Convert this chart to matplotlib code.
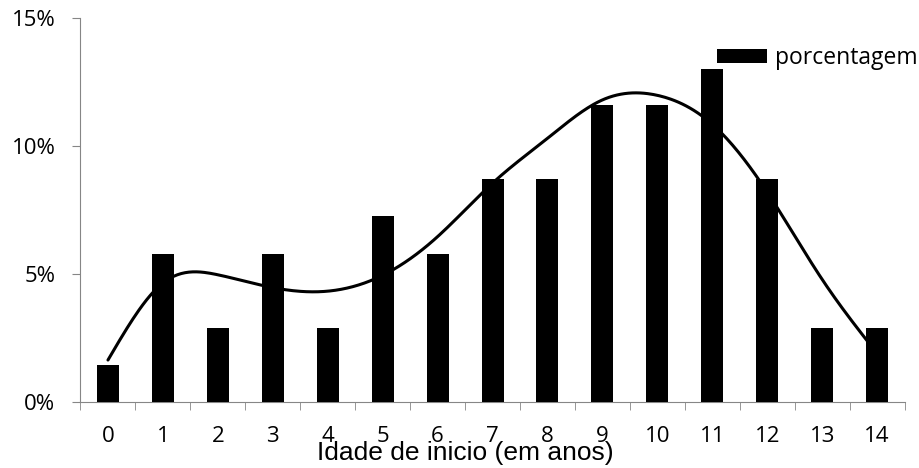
import numpy as np
import matplotlib.pyplot as plt
from matplotlib.ticker import FuncFormatter

# idade de inicio (anos) e porcentagem de casos
idades = list(range(15))
porcentagem = [1.45, 5.8, 2.9, 5.8, 2.9, 7.25, 5.8, 8.7, 8.7, 11.6, 11.6, 13.0, 8.7, 2.9, 2.9]

# linha de tendencia (valores em cada idade, %)
tendencia_x = list(range(15))
tendencia_y = [1.64, 4.65, 4.97, 4.47, 4.33, 4.95, 6.46, 8.55, 10.3, 11.8, 11.98, 10.85, 8.2, 4.79, 1.9]


def spline_natural(x, y, xs):
    x = np.asarray(x, float)
    y = np.asarray(y, float)
    n = len(x)
    h = np.diff(x)
    A = np.zeros((n, n))
    r = np.zeros(n)
    A[0, 0] = A[-1, -1] = 1
    for i in range(1, n - 1):
        A[i, i - 1] = h[i - 1]
        A[i, i] = 2 * (h[i - 1] + h[i])
        A[i, i + 1] = h[i]
        r[i] = 3 * ((y[i + 1] - y[i]) / h[i] - (y[i] - y[i - 1]) / h[i - 1])
    c = np.linalg.solve(A, r)
    b = (y[1:] - y[:-1]) / h - h * (2 * c[:-1] + c[1:]) / 3
    d = (c[1:] - c[:-1]) / (3 * h)
    k = np.clip(np.searchsorted(x, xs) - 1, 0, n - 2)
    dx = xs - x[k]
    return y[k] + b[k] * dx + c[k] * dx ** 2 + d[k] * dx ** 3


fig = plt.figure(figsize=(9.2, 4.68), dpi=100)
ax = fig.add_axes([0.0875, 0.141, 0.8957, 0.8205])

ax.bar(idades, porcentagem, width=0.40, color='black', label='porcentagem', zorder=3)

xs = np.linspace(tendencia_x[0], tendencia_x[-1], 400)
ax.plot(xs, spline_natural(tendencia_x, tendencia_y, xs), color='black', lw=2.2, zorder=2,
        solid_capstyle='round')

ax.set_xlim(-0.5, 14.5)
ax.set_ylim(0, 15)
ax.set_yticks([0, 5, 10, 15])
ax.yaxis.set_major_formatter(FuncFormatter(lambda v, p: '%d%%' % round(v)))
ax.set_xticks(idades)
ax.set_xticks(np.arange(-0.5, 15, 1), minor=True)
ax.tick_params(axis='x', which='major', length=0, labelsize=16, pad=17)
ax.tick_params(axis='x', which='minor', length=6, color='#868686', direction='out')
ax.tick_params(axis='y', length=6, color='#868686', labelsize=16, pad=12)
for lab in ax.get_xticklabels() + ax.get_yticklabels():
    lab.set_family('Open Sans')

for s in ['top', 'right']:
    ax.spines[s].set_visible(False)
ax.spines['left'].set_color('#868686')
ax.spines['bottom'].set_color('#868686')

ax.set_xlabel('Idade de inicio (em anos)', family='Liberation Sans', fontsize=19)
ax.xaxis.set_label_coords((465 - 80) / 824, -39 / 384)

fig.legend(loc='center left', bbox_to_anchor=(717 / 920, 1 - 58 / 468), frameon=False,
           prop={'family': 'Open Sans', 'size': 16.5}, handlelength=2.2,
           handleheight=0.62, handletextpad=0.35, borderpad=0, borderaxespad=0)

fig.savefig('out.png')
